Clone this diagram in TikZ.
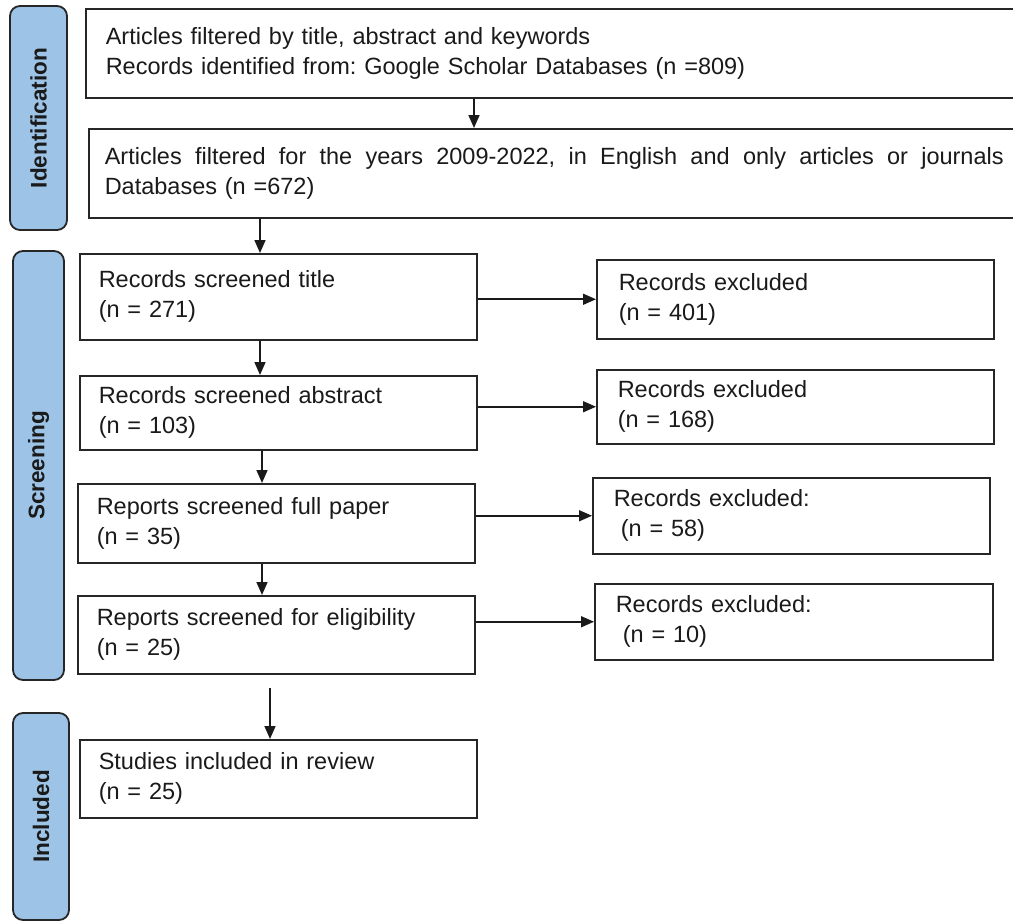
\documentclass[tikz,border=0pt]{standalone}
\usepackage{fontspec}
\setmainfont{Liberation Sans}
\usetikzlibrary{arrows.meta,calc}
\definecolor{barblue}{HTML}{9DC3E6}
\definecolor{ink}{HTML}{1A1A1A}
\definecolor{edge}{HTML}{262626}
\frenchspacing
\begin{document}
\begin{tikzpicture}[x=1pt,y=-1pt,
  every node/.style={font=\fontsize{23.5}{30}\selectfont\frenchspacing, text=ink},
  flowbox/.style={draw=edge, line width=1.5pt, rectangle, anchor=north west, align=left, inner ysep=0pt},
  sidebar/.style={draw=edge, fill=barblue, line width=1.8pt, rounded corners=10pt, rotate=90, inner sep=0pt, font=\fontsize{22.5}{26}\selectfont\bfseries, text=ink},
  arr/.style={line width=1.6pt, draw=ink, -{Triangle[length=13pt,width=11pt]}}
]
\useasboundingbox (0,0) rectangle (1013,922);
\clip (0,0) rectangle (1013,922);
\fill[white] (0,0) rectangle (1013,922);

% side bars
\node[sidebar, minimum width=224pt, minimum height=57pt] (idbar) at (38.5,118) {Identification};
\node[sidebar, minimum width=429pt, minimum height=51pt] (scbar) at (38.5,465.5) {Screening};
\node[sidebar, minimum width=207pt, minimum height=56pt] (inbar) at (41,816.5) {Included};

% identification boxes
\node[flowbox, inner xsep=20pt, text width=900pt, minimum height=89pt] (box1) at (85,8)
  {Articles filtered by title, abstract and keywords\\Records identified from: Google Scholar Databases (n =809)};
\node[flowbox, inner xsep=16pt, text width=905pt, minimum height=89pt] (box2) at (88,128)
  {\hbox to 899pt{Articles\hfill filtered\hfill for\hfill the\hfill years\hfill 2009-2022,\hfill in\hfill English\hfill and\hfill only\hfill articles\hfill or\hfill journals}\\Databases (n =672)};

% screening boxes
\node[flowbox, inner xsep=19pt, text width=359pt, minimum height=86pt] (b3) at (79,253)
  {Records screened title\\(n = 271)};
\node[flowbox, inner xsep=19pt, text width=359pt, minimum height=74pt] (b4) at (79,375)
  {Records screened abstract\\(n = 103)};
\node[flowbox, inner xsep=19pt, text width=359pt, minimum height=79pt] (b5) at (77,483)
  {Reports screened full paper\\(n = 35)};
\node[flowbox, inner xsep=19pt, text width=359pt, minimum height=78pt] (b6) at (77,595)
  {Reports screened for eligibility\\(n = 25)};

% excluded boxes
\node[flowbox, inner xsep=22pt, text width=353pt, minimum height=79pt] (r1) at (596,259)
  {Records excluded\\(n = 401)};
\node[flowbox, inner xsep=21pt, text width=355pt, minimum height=74pt] (r2) at (596,369)
  {Records excluded\\(n = 168)};
\node[flowbox, inner xsep=21pt, text width=355pt, minimum height=76pt] (r3) at (592,477)
  {Records excluded:\\\hspace*{0.3em}(n = 58)};
\node[flowbox, inner xsep=21pt, text width=356pt, minimum height=76pt] (r4) at (594,583)
  {Records excluded:\\\hspace*{0.3em}(n = 10)};

% included box
\node[flowbox, inner xsep=19pt, text width=359pt, minimum height=78pt] (studies) at (79,739)
  {Studies included in review\\(n = 25)};

% connectors
\coordinate (col) at (260,0);
\coordinate (topcol) at (474,0);
\coordinate (incstart) at (270,688);
\draw[arr] (box1.south -| topcol) -- (box2.north -| topcol);
\draw[arr] (box2.south -| col) -- (b3.north -| col);
\draw[arr] (b3.south -| col) -- (b4.north -| col);
\draw[arr] ([xshift=2pt]b4.south -| col) -- ([xshift=2pt]b5.north -| col);
\draw[arr] ([xshift=2pt]b5.south -| col) -- ([xshift=2pt]b6.north -| col);
\draw[arr] (incstart) -- (incstart |- studies.north);

\draw[arr] (b3.east |- r1.west) -- (r1.west);
\draw[arr] (b4.east |- r2.west) -- (r2.west);
\draw[arr] (b5.east |- r3.west) -- (r3.west);
\draw[arr] (b6.east |- r4.west) -- (r4.west);
\end{tikzpicture}
\end{document}
